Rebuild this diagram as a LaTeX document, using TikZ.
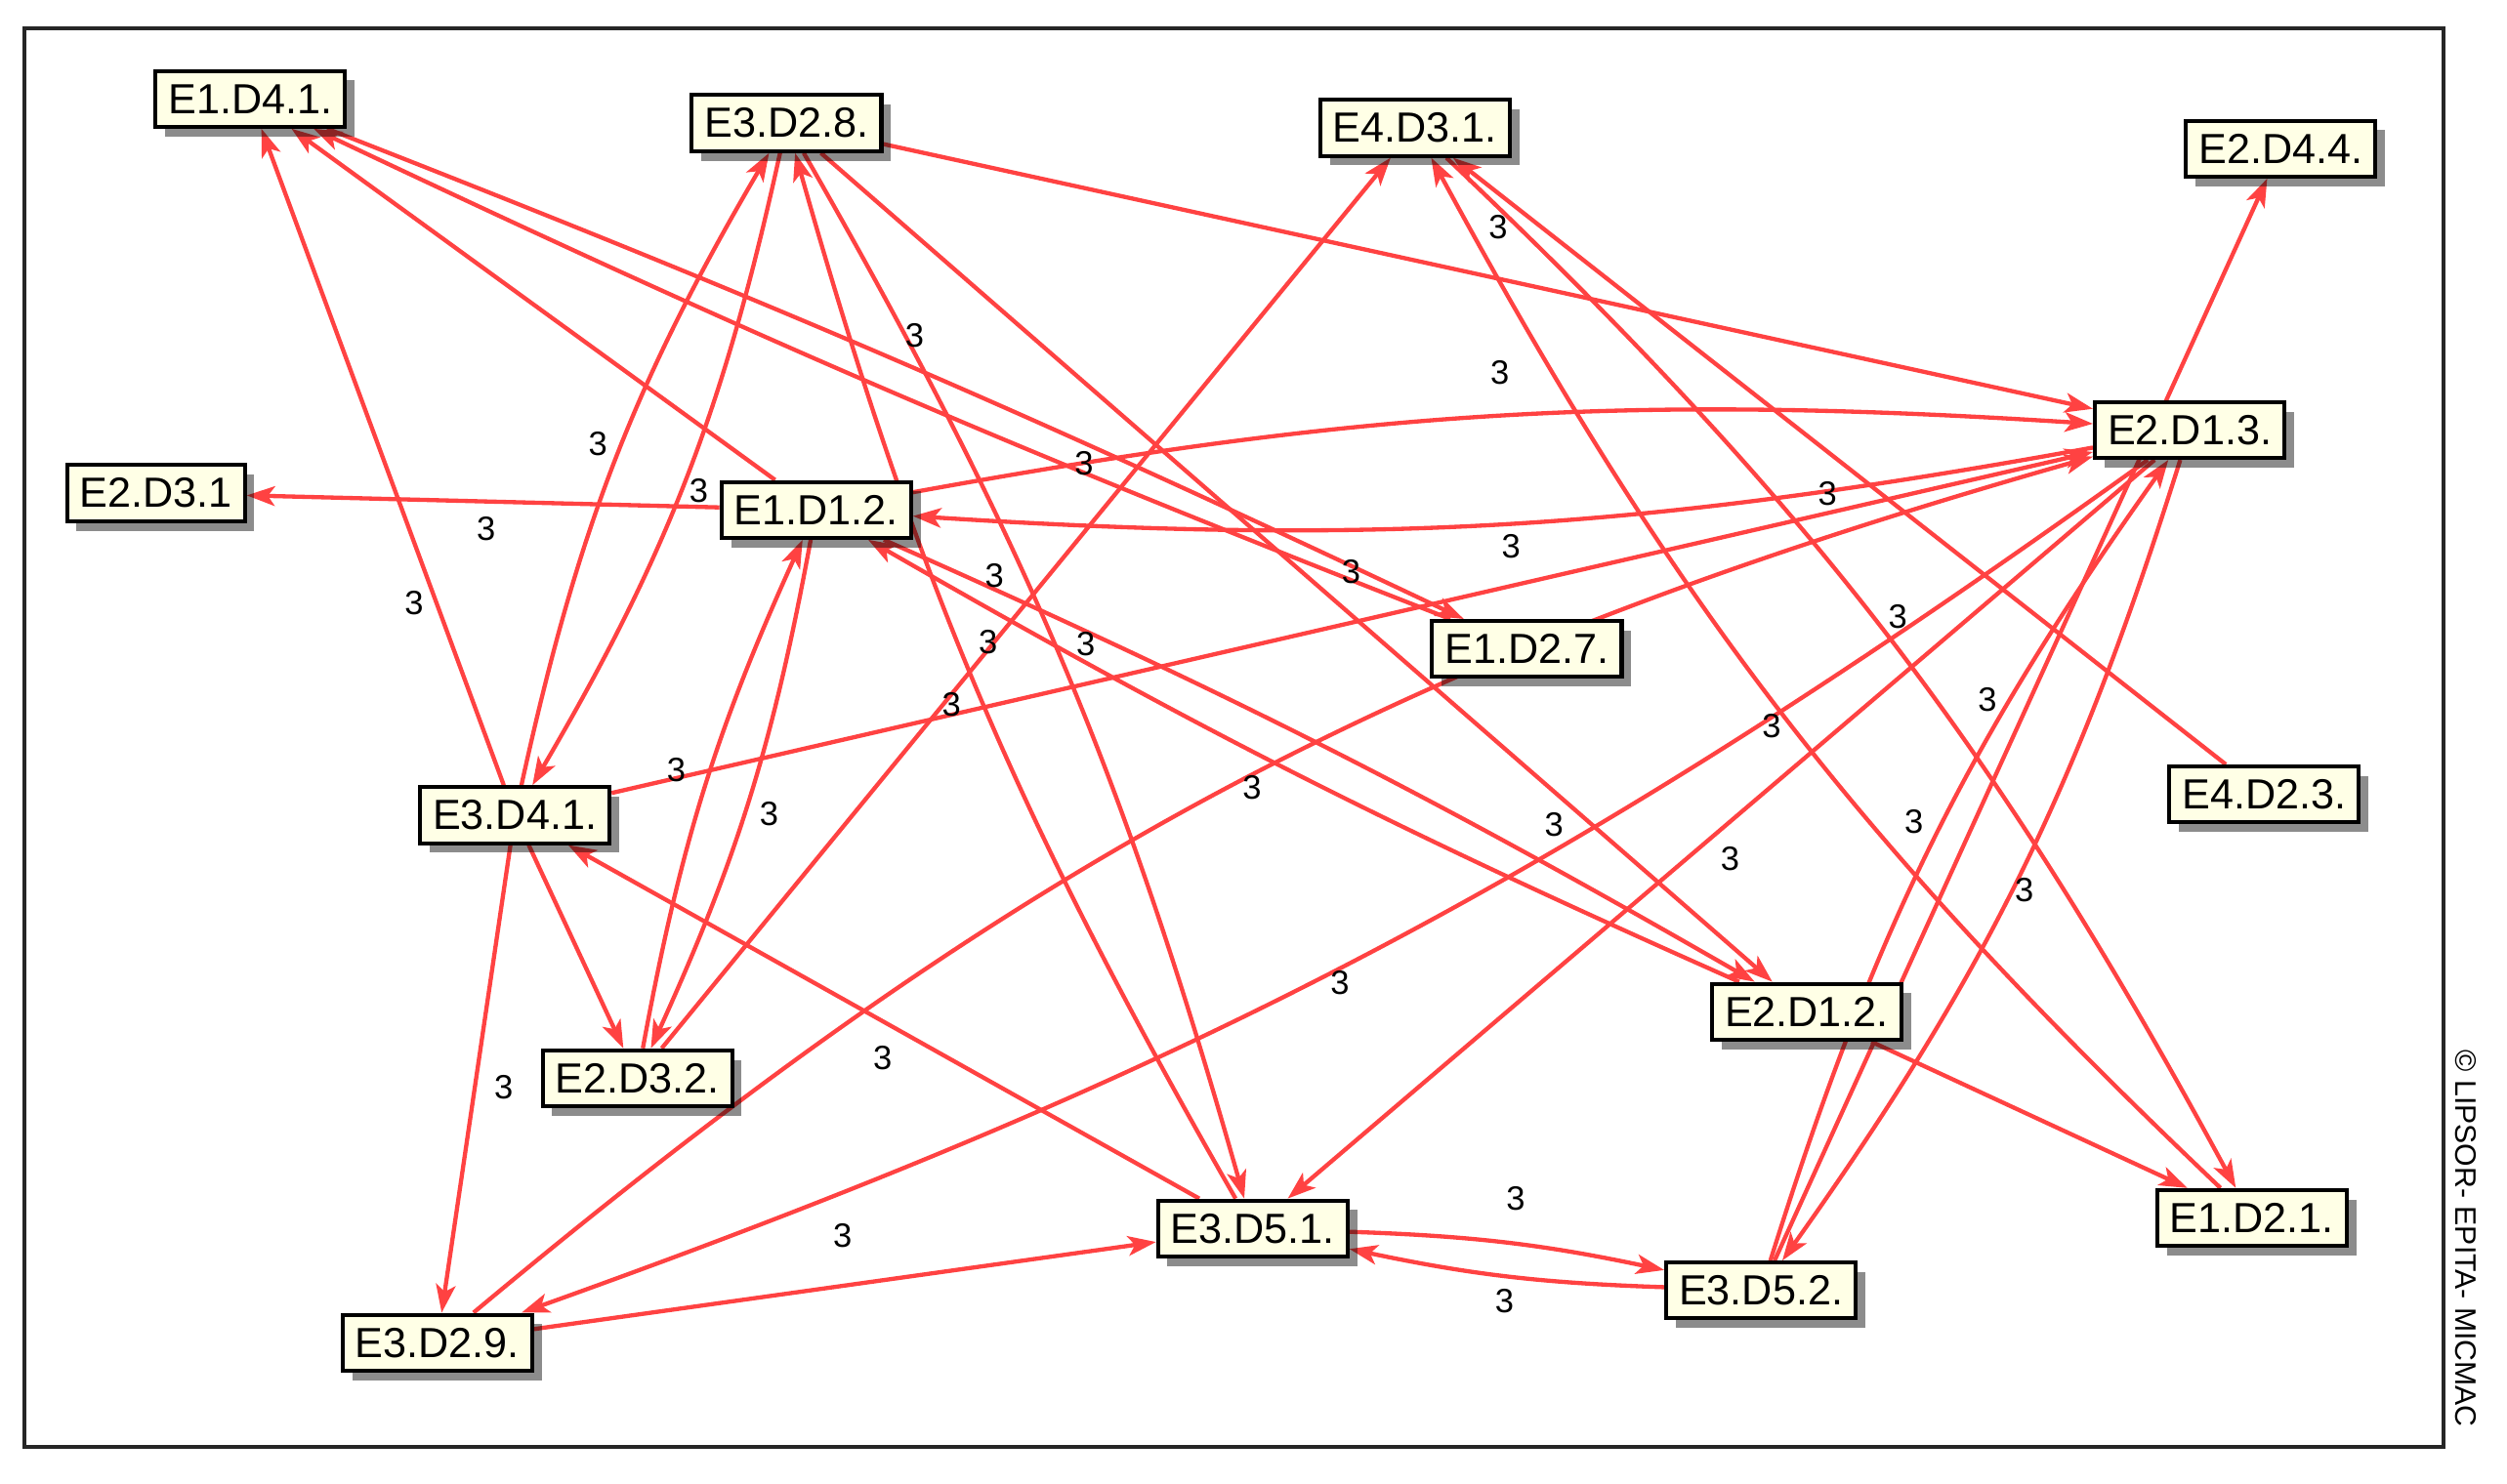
\documentclass[tikz,border=0pt]{standalone}
\usepackage{fontspec}
\setmainfont{Liberation Sans}
\usetikzlibrary{arrows.meta,shadows,backgrounds}
\definecolor{edgered}{RGB}{255,66,66}
\definecolor{cream}{RGB}{255,255,230}
\begin{document}
\begin{tikzpicture}[x=0.02cm,y=-0.02cm,
  box/.style={draw=black, line width=1.4pt, fill=cream, font=\fontsize{15}{18}\selectfont,
    inner xsep=0.16cm, inner ysep=0pt, minimum height=0.7cm,
    drop shadow={shadow xshift=0.12cm, shadow yshift=-0.12cm, fill=black, opacity=0.45}},
  lbl/.style={font=\fontsize{12}{14}\selectfont, inner sep=0pt},
  edge/.style={draw=edgered, line width=1.5pt, -{Stealth[length=10pt,width=7pt,inset=2.5pt]}},
  frame/.style={draw=black!85, line width=1.4pt}
]
\useasboundingbox (0,0) rectangle (1568,928);

% nodes
\node[box] (A) at (156.6,61.8) {E1.D4.1.};
\node[box] (B) at (492,77) {E3.D2.8.};
\node[box] (C) at (885,80) {E4.D3.1.};
\node[box] (D) at (1426.5,93) {E2.D4.4.};
\node[box] (E) at (97.5,308.5) {E2.D3.1};
\node[box] (F) at (510.5,319) {E1.D1.2.};
\node[box] (G) at (1369.5,269) {E2.D1.3.};
\node[box] (H) at (955,406) {E1.D2.7.};
\node[box] (I) at (322,510) {E3.D4.1.};
\node[box] (J) at (1416,497) {E4.D2.3.};
\node[box] (K) at (398.6,674.6) {E2.D3.2.};
\node[box] (L) at (1130,633) {E2.D1.2.};
\node[box] (M) at (783.5,768.6) {E3.D5.1.};
\node[box] (N) at (1408.5,762) {E1.D2.1.};
\node[box] (O) at (1101.4,807.4) {E3.D5.2.};
\node[box] (P) at (273.5,840) {E3.D2.9.};

\node[rotate=-90, font=\fontsize{10.5}{12}\selectfont, inner sep=0pt] (copy) at (1542.5,775) {© LIPSOR- EPITA- MICMAC};

\begin{scope}[on background layer]
\draw[frame] (15,18) rectangle (1528,905);
% one-way edges
\draw[edge] (F) -- (E);
\draw[edge] (F) -- (A);
\draw[edge] (I) -- (A);
\draw[edge] (B) -- (G);
\draw[edge] (B) -- (L);
\draw[edge] (K) -- (C);
\draw[edge] (J) -- (C);
\draw[edge] (O) -- (D);
\draw[edge] (I) -- (G);
\draw[edge] (G) -- (M);
\draw[edge] (P) -- (M);
\draw[edge] (M) -- (I);
\draw[edge] (I) -- (K);
\draw[edge] (I) -- (P);
\draw[edge] (L) -- (N);
% two-way pairs
\draw[edge] (A) to[bend left=2] (H);
\draw[edge] (H) to[bend left=2] (A);
\draw[edge] (F) to[bend left=7] (G);
\draw[edge] (G) to[bend left=7] (F);
\draw[edge] (I) to[bend left=9] (B);
\draw[edge] (B) to[bend left=9] (I);
\draw[edge] (B) to[bend left=7] (M);
\draw[edge] (M) to[bend left=7] (B);
\draw[edge] (K) to[bend left=7] (F);
\draw[edge] (F) to[bend left=7] (K);
\draw[edge] (C) to[bend left=9] (N);
\draw[edge] (N) to[bend left=9] (C);
\draw[edge] (G) to[bend left=9] (O);
\draw[edge] (O) to[bend left=9] (G);
\draw[edge] (M) to[bend left=5] (O);
\draw[edge] (O) to[bend left=5] (M);
\draw[edge] (P) to[bend left=12] (G);
\draw[edge] (G) to[bend left=8] (P);
\draw[edge] (F) to[bend left=3] (L);
\draw[edge] (L) to[bend left=3] (F);
\end{scope}

% value labels
\node[lbl] (l1) at (937,142) {3};
\node[lbl] (l2) at (572,210) {3};
\node[lbl] (l3) at (938,233) {3};
\node[lbl] (l4) at (374,278) {3};
\node[lbl] (l5) at (678,290) {3};
\node[lbl] (l6) at (437,307) {3};
\node[lbl] (l7) at (304,331) {3};
\node[lbl] (l8) at (1143,309) {3};
\node[lbl] (l9) at (945,342) {3};
\node[lbl] (l10) at (845,358) {3};
\node[lbl] (l11) at (259,377) {3};
\node[lbl] (l12) at (622,360) {3};
\node[lbl] (l13) at (618,402) {3};
\node[lbl] (l14) at (679,403) {3};
\node[lbl] (l15) at (595,441) {3};
\node[lbl] (l16) at (1187,386) {3};
\node[lbl] (l17) at (1243,438) {3};
\node[lbl] (l18) at (1108,454) {3};
\node[lbl] (l19) at (423,482) {3};
\node[lbl] (l20) at (481,509) {3};
\node[lbl] (l21) at (783,493) {3};
\node[lbl] (l22) at (972,516) {3};
\node[lbl] (l23) at (1197,514) {3};
\node[lbl] (l24) at (1082,537) {3};
\node[lbl] (l25) at (1266,557) {3};
\node[lbl] (l26) at (838,615) {3};
\node[lbl] (l27) at (552,662) {3};
\node[lbl] (l28) at (315,680) {3};
\node[lbl] (l29) at (948,750) {3};
\node[lbl] (l30) at (527,773) {3};
\node[lbl] (l31) at (941,814) {3};
\end{tikzpicture}
\end{document}
